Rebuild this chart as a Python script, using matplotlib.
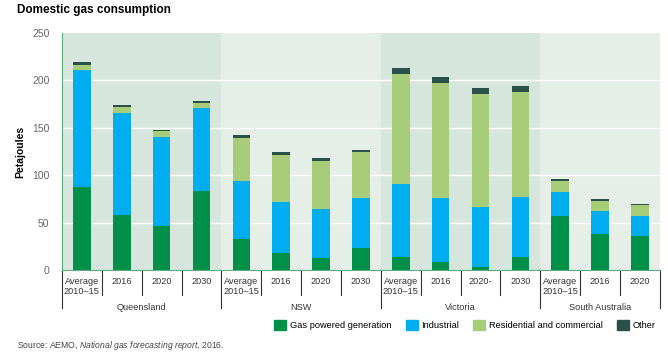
import matplotlib
matplotlib.use("Agg")
import matplotlib.pyplot as plt
import matplotlib.transforms as mtransforms
from matplotlib.patches import Patch

# data (petajoules)
regions = ["Queensland", "NSW", "Victoria", "South Australia"]
periods = [
    ["Average\n2010–15", "2016", "2020", "2030"],
    ["Average\n2010–15", "2016", "2020", "2030"],
    ["Average\n2010–15", "2016", "2020-", "2030"],
    ["Average\n2010–15", "2016", "2020"],
]
gas_gen = [88, 58, 46.5, 83, 33, 17.5, 13, 23.5, 14, 8, 3, 14, 57, 38, 36]
industrial = [123.5, 107.6, 94, 87.5, 60.4, 54, 51.6, 52.5, 76.3, 67.7, 63.3, 62.7, 25, 24.2, 21]
residential = [4.5, 5.9, 5.9, 5.9, 46.2, 49.3, 50, 48, 116, 121.2, 119.1, 110.8, 11.4, 10.4, 11.4]
other = [3.4, 2.1, 1.5, 2.4, 3.1, 3.2, 3.1, 2.7, 6.9, 6.9, 6.3, 6.9, 2.1, 2.1, 1.4]

series = ["Gas powered generation", "Industrial", "Residential and commercial", "Other"]
colors = ["#00904a", "#00aeef", "#a8cd78", "#2b5049"]
band_colors = ["#d6e6dc", "#e6eee8"]

plt.rcParams["font.family"] = ["Liberation Sans", "DejaVu Sans"]
plt.rcParams["mathtext.fontset"] = "custom"
plt.rcParams["mathtext.rm"] = "Liberation Sans"
plt.rcParams["mathtext.it"] = "Liberation Sans:italic"

fig = plt.figure(figsize=(6.68, 3.58), dpi=100)
ax = fig.add_axes([0.0928, 0.2458, 0.895, 0.662])

n = len(gas_gen)
x = list(range(n))

# background bands per region
start = 0
bounds = []
for i, p in enumerate(periods):
    ax.axvspan(start - 0.5, start + len(p) - 0.5, color=band_colors[i % 2], zorder=0, lw=0)
    bounds.append((start, start + len(p)))
    start += len(p)

for yv in [50, 100, 150, 200]:
    ax.axhline(yv, color="white", lw=1, zorder=1)

bottom = [0] * n
for vals, c in zip([gas_gen, industrial, residential, other], colors):
    ax.bar(x, vals, bottom=bottom, width=0.44, color=c, zorder=2)
    bottom = [b + v for b, v in zip(bottom, vals)]

ax.set_xlim(-0.5, n - 0.5)
ax.set_ylim(0, 250)
ax.set_yticks([0, 50, 100, 150, 200, 250])
ax.tick_params(axis="y", length=0, pad=9, labelsize=7.5, labelcolor="#666666")
ax.set_xticks([])
for s in ["top", "right"]:
    ax.spines[s].set_visible(False)
ax.spines["left"].set_color("#5fae7f")
ax.spines["bottom"].set_color("#5fae7f")
ax.set_ylabel("Petajoules", fontsize=7.5, fontweight="bold", labelpad=5)

# category labels and separators below the axis
trans = mtransforms.blended_transform_factory(ax.transData, ax.transAxes)
labels = [lab for p in periods for lab in p]
for i, lab in enumerate(labels):
    ax.text(i, -0.03, lab, transform=trans, ha="center", va="top",
            fontsize=6.6, color="#333333", linespacing=1.15)
group_edges = [b[0] - 0.5 for b in bounds] + [n - 0.5]
for i in range(n + 1):
    xe = i - 0.5
    low = -0.16 if xe in group_edges else -0.105
    ax.plot([xe, xe], [0, low], transform=trans, color="#333333", lw=0.8, clip_on=False)
for (a, b), name in zip(bounds, regions):
    ax.text((a + b - 1) / 2, -0.138, name, transform=trans, ha="center", va="top",
            fontsize=6.6, color="#333333")

fig.text(0.025, 0.972, "Domestic gas consumption", fontsize=8.5, fontweight="bold", va="center")

handles = [Patch(color=c, label=s) for c, s in zip(colors, series)]
fig.legend(handles=handles, loc="center", bbox_to_anchor=(0.696, 0.092), ncol=4,
           frameon=False, fontsize=6.7, handlelength=1.3, handleheight=1.3,
           columnspacing=1.5, handletextpad=0.4)

fig.text(0.025, 0.036, "Source: AEMO, $\\it{National\\ gas\\ forecasting\\ report}$, 2016.",
         fontsize=6.2, color="#444444", va="center")

fig.savefig("out.png", dpi=100)
